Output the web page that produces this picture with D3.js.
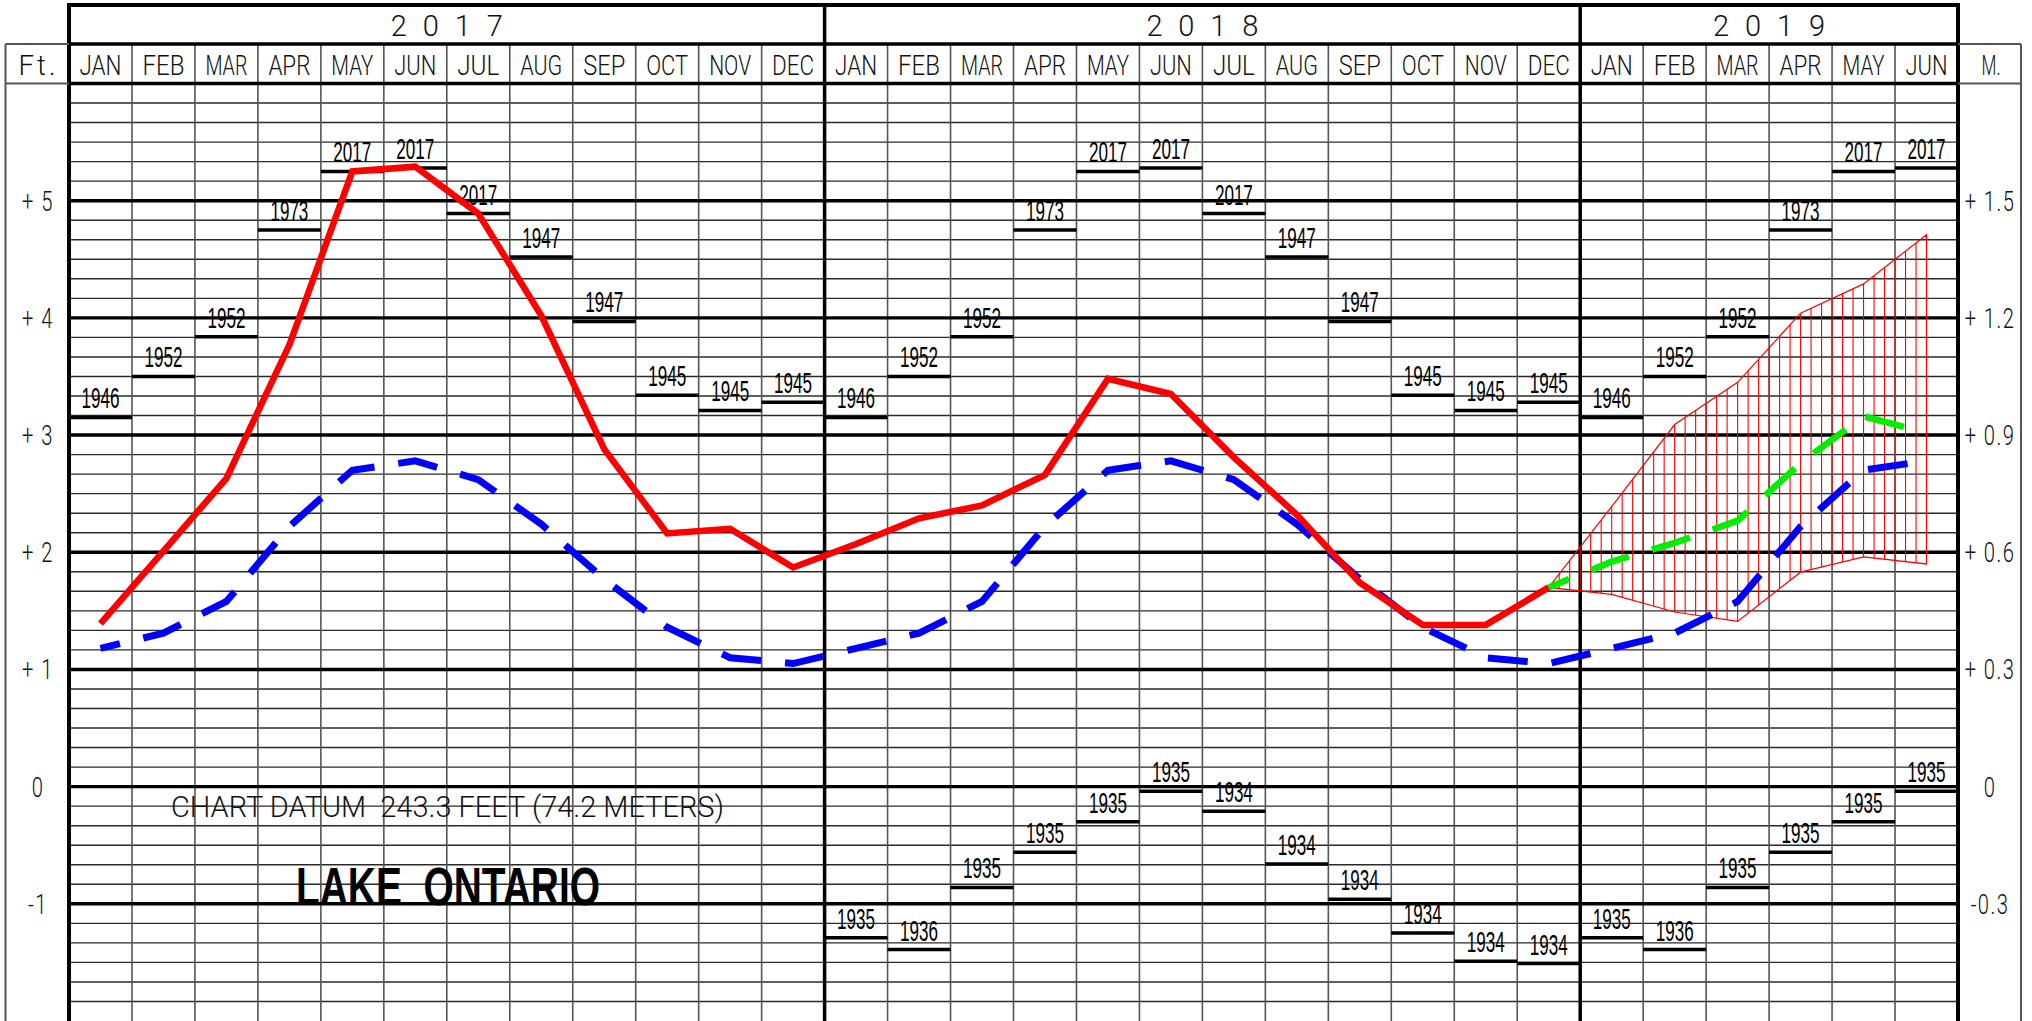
<!DOCTYPE html>
<html><head><meta charset="utf-8">
<script src="https://cdn.jsdelivr.net/npm/d3@7"></script>
<style>
html,body{margin:0;padding:0;background:#fff;}
svg{display:block;}
</style></head>
<body>
<svg id="chart" width="2032" height="1021"></svg>
<script>
// ---------- data ----------
const yearLabels = ["2017", "2018", "2019"];
const monthsPerYear = [12, 12, 6];
const monthNames = ["JAN","FEB","MAR","APR","MAY","JUN","JUL","AUG","SEP","OCT","NOV","DEC"];
const feetTicks = [5, 4, 3, 2, 1, 0, -1];
const feetTickLabels = ["+ 5", "+ 4", "+ 3", "+ 2", "+ 1", "0", "-1"];
const meterTickLabels = ["+ 1.5", "+ 1.2", "+ 0.9", "+ 0.6", "+ 0.3", "0", "-0.3"];

// monthly mean recorded level, Jan 2017 .. Dec 2018 (ft above chart datum)
const actualLevel = [1.39, 2.01, 2.63, 3.77, 5.25, 5.29, 4.89, 4.02, 2.88, 2.16, 2.20, 1.87,
                     2.07, 2.29, 2.40, 2.66, 3.48, 3.35, 2.81, 2.32, 1.74, 1.38, 1.38, 1.70];
// long-term average by calendar month
const averageLevel = [1.18, 1.31, 1.58, 2.22, 2.70, 2.78, 2.62, 2.24, 1.77, 1.36, 1.10, 1.05];
// forecast Dec 2018 .. Jun 2019
const forecastStart = 23; // month index of Dec 2018
const forecastLevel = [1.70, 1.92, 2.08, 2.27, 2.76, 3.16, 3.02];
const forecastUpper = [1.70, 2.39, 3.09, 3.45, 4.04, 4.29, 4.71];
const forecastLower = [1.70, 1.64, 1.49, 1.41, 1.83, 1.96, 1.90];
// record highs / lows by calendar month
const recordHigh = [3.15, 3.50, 3.84, 4.75, 5.25, 5.28, 4.89, 4.52, 3.97, 3.34, 3.21, 3.28];
const recordHighYear = ["1946","1952","1952","1973","2017","2017","2017","1947","1947","1945","1945","1945"];
const recordLow = [-1.29, -1.39, -0.86, -0.56, -0.30, -0.04, -0.21, -0.66, -0.96, -1.25, -1.49, -1.51];
const recordLowYear = ["1935","1936","1935","1935","1935","1935","1934","1934","1934","1934","1934","1934"];
const lowShownFrom = 12; // lows are drawn from Jan 2018 onward

// ---------- layout ----------
const L = 69, R = 1958, TOP = 5, ROW1 = 44, GRIDTOP = 83.5, BOTTOM = 1021;
const colL = 5.5, colR = 2021;
const nMonths = d3.sum(monthsPerYear);

const x = d3.scaleLinear().domain([0, nMonths]).range([L, R]);
const y = d3.scaleLinear().domain([-2, 6]).range([BOTTOM, GRIDTOP]);

const svg = d3.select("#chart");
const thinFont = "Roboto, 'Open Sans', 'DejaVu Sans', sans-serif";
const narrowFont = "'Liberation Sans Narrow', 'Liberation Sans', Arial, sans-serif";

// ---------- grid ----------
const grid = svg.append("g");
const minorVals = d3.range(-12, 37).map(k => k / 6).filter(v => Math.abs(v - Math.round(v)) > 1e-6);
grid.selectAll(".minor").data(minorVals).join("line")
  .attr("x1", L).attr("x2", R).attr("y1", d => y(d)).attr("y2", d => y(d))
  .attr("stroke", "#2a2a2a").attr("stroke-width", 1.4);

const monthLines = d3.range(1, nMonths).filter(i => i !== 12 && i !== 24);
grid.selectAll(".mline").data(monthLines).join("line")
  .attr("x1", d => x(d)).attr("x2", d => x(d)).attr("y1", ROW1).attr("y2", BOTTOM)
  .attr("stroke", "#555").attr("stroke-width", 1.6);

grid.selectAll(".major").data(feetTicks).join("line")
  .attr("x1", L).attr("x2", R).attr("y1", d => y(d)).attr("y2", d => y(d))
  .attr("stroke", "#000").attr("stroke-width", 3.4);

// header frame
const frame = svg.append("g").attr("stroke", "#000");
frame.append("line").attr("x1", L).attr("x2", R).attr("y1", TOP).attr("y2", TOP).attr("stroke-width", 4);
frame.append("line").attr("x1", L).attr("x2", R).attr("y1", ROW1).attr("y2", ROW1).attr("stroke-width", 3.5);
frame.append("line").attr("x1", L).attr("x2", R).attr("y1", GRIDTOP).attr("y2", GRIDTOP).attr("stroke-width", 3.5);
const side = svg.append("g").attr("stroke", "#555").attr("stroke-width", 2);
side.append("line").attr("x1", colL).attr("x2", L).attr("y1", ROW1).attr("y2", ROW1);
side.append("line").attr("x1", colL).attr("x2", L).attr("y1", GRIDTOP).attr("y2", GRIDTOP);
side.append("line").attr("x1", R).attr("x2", colR).attr("y1", ROW1).attr("y2", ROW1);
side.append("line").attr("x1", R).attr("x2", colR).attr("y1", GRIDTOP).attr("y2", GRIDTOP);
side.append("line").attr("x1", colL).attr("x2", colL).attr("y1", ROW1).attr("y2", BOTTOM);
side.append("line").attr("x1", colR).attr("x2", colR).attr("y1", ROW1).attr("y2", BOTTOM);
frame.selectAll(".vb").data([0, 12, 24, nMonths]).join("line")
  .attr("x1", d => x(d)).attr("x2", d => x(d)).attr("y1", TOP - 2).attr("y2", BOTTOM)
  .attr("stroke-width", d => (d === 0 || d === nMonths) ? 4 : 3.5);

// ---------- header text ----------
let start = 0;
yearLabels.forEach((yr, k) => {
  const cx = (x(start) + x(start + monthsPerYear[k])) / 2;
  svg.append("text").text(yr)
    .attr("x", cx).attr("y", 35.5).attr("text-anchor", "middle")
    .attr("font-family", thinFont).attr("font-weight", 300).attr("font-size", 29)
    .attr("textLength", 112).attr("lengthAdjust", "spacing").attr("fill", "#111");
  start += monthsPerYear[k];
});
const monthSeq = d3.range(nMonths).map(i => monthNames[i % 12]);
svg.selectAll(".mon").data(monthSeq).join("text")
  .text(d => d)
  .attr("x", (d, i) => x(i + 0.5)).attr("y", 74.5).attr("text-anchor", "middle")
  .attr("font-family", thinFont).attr("font-weight", 300).attr("font-size", 27.5)
  .attr("textLength", 42).attr("lengthAdjust", "spacingAndGlyphs").attr("fill", "#111");

svg.append("text").text("Ft.").attr("x", 37).attr("y", 74.5).attr("text-anchor", "middle")
  .attr("font-family", thinFont).attr("font-weight", 300).attr("font-size", 27.5)
  .attr("textLength", 37).attr("lengthAdjust", "spacing").attr("fill", "#111");
svg.append("text").text("M.").attr("x", 1991).attr("y", 74.5).attr("text-anchor", "middle")
  .attr("font-family", thinFont).attr("font-weight", 300).attr("font-size", 27.5)
  .attr("textLength", 19).attr("lengthAdjust", "spacingAndGlyphs").attr("fill", "#111");

// ---------- axis labels (feet left, metres right) ----------
function axisLabel(cx, labels) {
  svg.append("g").selectAll("text").data(feetTicks).join("text")
    .text((d, i) => labels[i])
    .attr("transform", d => `translate(${cx},${y(d) + 10}) scale(0.72,1)`)
    .attr("text-anchor", "middle").style("white-space", "pre").attr("letter-spacing", 2)
    .attr("font-family", thinFont).attr("font-weight", 300).attr("font-size", 28).attr("fill", "#111");
}
axisLabel(38, feetTickLabels);
axisLabel(1990, meterTickLabels);

// ---------- record high / low markers ----------
const rec = svg.append("g");
const highs = d3.range(nMonths).map(i => ({ i, v: recordHigh[i % 12], t: recordHighYear[i % 12] }));
const lows = d3.range(lowShownFrom, nMonths).map(i => ({ i, v: recordLow[i % 12], t: recordLowYear[i % 12] }));
[highs, lows].forEach(set => {
  rec.append("g").selectAll("line").data(set).join("line")
    .attr("x1", d => x(d.i)).attr("x2", d => x(d.i + 1))
    .attr("y1", d => y(d.v)).attr("y2", d => y(d.v))
    .attr("stroke", "#000").attr("stroke-width", 3.5);
  rec.append("g").selectAll("text").data(set).join("text")
    .text(d => d.t)
    .attr("x", d => x(d.i + 0.5)).attr("y", d => y(d.v) - 9)
    .attr("text-anchor", "middle")
    .attr("font-family", narrowFont).attr("font-size", 30)
    .attr("textLength", 38).attr("lengthAdjust", "spacingAndGlyphs").attr("fill", "#000");
});

// ---------- annotations ----------
svg.append("text").text("CHART DATUM  243.3 FEET (74.2 METERS)")
  .attr("x", 171).attr("y", 817).style("white-space", "pre")
  .attr("font-family", thinFont).attr("font-weight", 300).attr("font-size", 29)
  .attr("textLength", 553).attr("lengthAdjust", "spacingAndGlyphs").attr("fill", "#111");
svg.append("text").text("LAKE  ONTARIO")
  .attr("x", 296).attr("y", 905).style("white-space", "pre")
  .attr("font-family", narrowFont).attr("font-weight", 700).attr("font-size", 54)
  .attr("textLength", 304).attr("lengthAdjust", "spacingAndGlyphs").attr("fill", "#000");

// ---------- forecast band ----------
const band = forecastUpper.map((u, k) => ({ i: forecastStart + k, u, l: forecastLower[k] }));
const area = d3.area().x(d => x(d.i + 0.5)).y0(d => y(d.l)).y1(d => y(d.u));
svg.append("clipPath").attr("id", "bandClip").append("path").attr("d", area(band));
const hatchX = d3.range(forecastStart + 0.5, forecastStart + band.length - 0.5 + 1e-6, 1 / 6);
svg.append("g").attr("clip-path", "url(#bandClip)").selectAll("line").data(hatchX).join("line")
  .attr("x1", d => x(d)).attr("x2", d => x(d))
  .attr("y1", y(d3.max(forecastUpper)) - 5).attr("y2", y(d3.min(forecastLower)) + 5)
  .attr("stroke", "#ff0000").attr("stroke-width", 1.1);
svg.append("path").attr("d", area(band)).attr("fill", "none")
  .attr("stroke", "#ff0000").attr("stroke-width", 1.2);

// ---------- series lines ----------
const line = d3.line().x(d => x(d.i + 0.5)).y(d => y(d.v));
const avgSeries = d3.range(nMonths).map(i => ({ i, v: averageLevel[i % 12] }));
const actSeries = actualLevel.map((v, i) => ({ i, v }));
const fcSeries = forecastLevel.map((v, k) => ({ i: forecastStart + k, v }));

svg.append("path").attr("d", line(avgSeries)).attr("fill", "none")
  .attr("stroke", "#0000ff").attr("stroke-width", 7)
  .attr("stroke-dasharray", "40,24").attr("stroke-dashoffset", 20);
svg.append("path").attr("d", line(actSeries)).attr("fill", "none")
  .attr("stroke", "#ff0000").attr("stroke-width", 6.5);
svg.append("path").attr("d", line(fcSeries)).attr("fill", "none")
  .attr("stroke", "#00ee00").attr("stroke-width", 6.5)
  .attr("stroke-dasharray", "40,24").attr("stroke-dashoffset", 18);
</script>
</body></html>
